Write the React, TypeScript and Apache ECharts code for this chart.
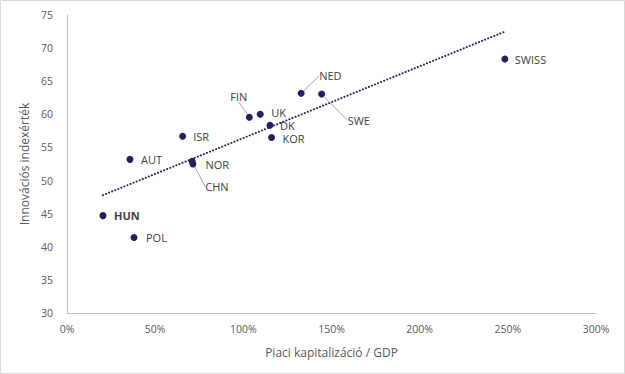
import React, { useEffect, useRef } from "react";
import * as echarts from "echarts";

// Country labels, market cap / GDP (share), innovation index
const countries = ["SWISS", "NED", "SWE", "FIN", "UK", "DK", "KOR", "CHN", "NOR", "ISR", "AUT", "HUN", "POL"];
const marketCap = [2.483, 1.328, 1.444, 1.034, 1.096, 1.151, 1.16, 0.71, 0.714, 0.656, 0.357, 0.204, 0.38];
const innovation = [68.35, 63.17, 63.07, 59.55, 60.0, 58.34, 56.5, 52.9, 52.5, 56.7, 53.2, 44.7, 41.4];
const xTicks = [0, 0.5, 1, 1.5, 2, 2.5, 3];
const yTicks = [30, 35, 40, 45, 50, 55, 60, 65, 70, 75];
const boldLabels = ["HUN"];

// label placement (pixel offsets from the point centre) and leader lines
const labelLayoutCfg: Record<string, { dx: number; dy: number; align: string; leader?: number[][] }> = {
  SWISS: { dx: 10, dy: 0, align: "left" },
  NED: { dx: 18, dy: -17.5, align: "left", leader: [[3, -4], [9, -17.5], [16, -17.5]] },
  SWE: { dx: 26, dy: 26.5, align: "left", leader: [[2, 4], [15, 26.5], [24, 26.5]] },
  FIN: { dx: -2, dy: -21, align: "right", leader: [[-9, -12], [-2, -3]] },
  UK: { dx: 11, dy: -1.5, align: "left" },
  DK: { dx: 10, dy: 0, align: "left" },
  KOR: { dx: 11, dy: 1, align: "left" },
  CHN: { dx: 13, dy: 25.5, align: "left", leader: [[1, 4], [5, 25.5], [11, 25.5]] },
  NOR: { dx: 12.5, dy: 0, align: "left" },
  ISR: { dx: 10.5, dy: 0, align: "left" },
  AUT: { dx: 11, dy: 0, align: "left" },
  HUN: { dx: 11, dy: 0, align: "left" },
  POL: { dx: 12, dy: 0, align: "left" },
};

function regression(xs: number[], ys: number[]) {
  const n = xs.length;
  const mx = xs.reduce((a, b) => a + b, 0) / n;
  const my = ys.reduce((a, b) => a + b, 0) / n;
  let sxx = 0;
  let sxy = 0;
  for (let i = 0; i < n; i++) {
    sxx += (xs[i] - mx) * (xs[i] - mx);
    sxy += (xs[i] - mx) * (ys[i] - my);
  }
  const slope = sxy / sxx;
  return { slope, intercept: my - slope * mx };
}

export default function App() {
  const ref = useRef<HTMLDivElement>(null);
  useEffect(() => {
    document.body.style.margin = "0";
    if (!ref.current) return;
    const chart = echarts.init(ref.current, undefined, { renderer: "svg" });
    const { slope, intercept } = regression(marketCap, innovation);
    const xMin = Math.min(...marketCap);
    const xMax = Math.max(...marketCap);
    const trend = [
      [xMin, intercept + slope * xMin],
      [xMax, intercept + slope * xMax],
    ];
    const font = "'Open Sans', sans-serif";
    const navy = "#23215a";
    const labelColor = "#404040";
    const data = countries.map((c, i) => ({
      name: c,
      value: [marketCap[i], innovation[i]],
      label: {
        color: labelColor,
        fontWeight: boldLabels.includes(c) ? "bold" : "normal",
      },
      labelLine: { show: !!labelLayoutCfg[c].leader },
    }));
    chart.setOption({
      animation: false,
      graphic: [
        {
          type: "rect",
          shape: { x: 0.5, y: 0.5, width: 624, height: 373 },
          style: { fill: "none", stroke: "#d9d9d9", lineWidth: 1 },
          silent: true,
          z: -1,
        },
      ],
      grid: { left: 67, top: 15, right: 29, bottom: 61, containLabel: false },
      xAxis: {
        type: "value",
        min: xTicks[0],
        max: xTicks[xTicks.length - 1],
        interval: 0.5,
        axisLine: { show: true, lineStyle: { color: "#bfbfbf", width: 1 } },
        axisTick: { show: false },
        splitLine: { show: false },
        axisLabel: {
          formatter: (v: number) => `${Math.round(v * 100)}%`,
          color: "#595959",
          fontFamily: font,
          fontSize: 10.5,
          margin: 10,
        },
        name: "Piaci kapitalizáció / GDP",
        nameLocation: "middle",
        nameGap: 33,
        nameTextStyle: { color: "#595959", fontFamily: font, fontSize: 12 },
      },
      yAxis: {
        type: "value",
        min: yTicks[0],
        max: yTicks[yTicks.length - 1],
        interval: 5,
        axisLine: { show: true, lineStyle: { color: "#bfbfbf", width: 1 } },
        axisTick: { show: false },
        splitLine: { show: false },
        axisLabel: {
          color: "#595959",
          fontFamily: font,
          fontSize: 10.5,
          margin: 14,
        },
        name: "Innovációs indexérték",
        nameLocation: "middle",
        nameGap: 33,
        nameTextStyle: { color: "#595959", fontFamily: font, fontSize: 12 },
      },
      series: [
        {
          type: "line",
          data: trend,
          symbol: "none",
          silent: true,
          lineStyle: { color: navy, width: 2, type: [0.1, 3.2], cap: "round" },
          z: 1,
        },
        {
          type: "scatter",
          data,
          symbolSize: 7,
          itemStyle: { color: navy, opacity: 1 },
          z: 3,
          label: {
            show: true,
            formatter: "{b}",
            position: "right",
            color: labelColor,
            fontFamily: font,
            fontSize: 11,
            lineHeight: 12,
          },
          labelLine: {
            show: false,
            lineStyle: { color: "#a6a6a6", width: 1 },
          },
          labelLayout: (params: any) => {
            const name = countries[params.dataIndex];
            const cfg = labelLayoutCfg[name];
            const r = params.rect;
            const cx = r.x + r.width / 2;
            const cy = r.y + r.height / 2;
            const out: any = {
              x: cx + cfg.dx,
              y: cy + cfg.dy,
              align: cfg.align,
              verticalAlign: "middle",
            };
            if (cfg.leader) {
              out.labelLinePoints = cfg.leader.map((p) => [cx + p[0], cy + p[1]]);
            }
            return out;
          },
        },
      ],
    });
    return () => chart.dispose();
  }, []);
  return <div ref={ref} style={{ width: 625, height: 374 }} />;
}
